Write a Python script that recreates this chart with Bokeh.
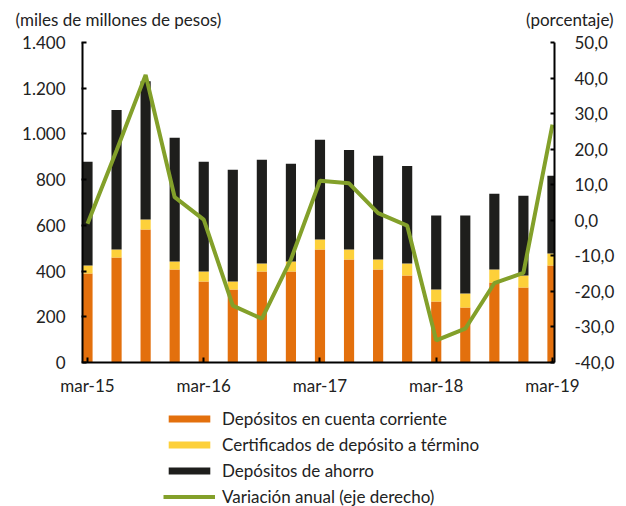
from bokeh.plotting import figure
from bokeh.layouts import column, row
from bokeh.models import (Range1d, LinearAxis, FixedTicker, CustomJSTickFormatter,
                          Legend, LegendItem, Label)
from bokeh.embed import file_html
from bokeh.resources import INLINE

# ---- data (quarterly, mar-15 .. mar-19) ----
periods = ["mar-15", "jun-15", "sep-15", "dic-15", "mar-16", "jun-16", "sep-16", "dic-16",
           "mar-17", "jun-17", "sep-17", "dic-17", "mar-18", "jun-18", "sep-18", "dic-18", "mar-19"]
cuenta_corriente = [389, 459, 582, 407, 354, 319, 398, 398, 494, 451, 407, 381, 267, 241, 350, 328, 424]
cdt = [35, 35, 44, 35, 44, 35, 35, 44, 44, 43, 44, 52, 52, 61, 57, 53, 53]
ahorro = [454, 611, 604, 541, 480, 489, 454, 427, 436, 436, 453, 427, 324, 341, 331, 348, 340]
variacion = [-1.0, 19.6, 40.9, 6.5, 0.2, -24.0, -27.7, -11.0, 11.1, 10.4, 2.0, -1.5,
             -33.8, -30.5, -17.7, -14.8, 26.9]
x_tick_labels = {0: "mar-15", 4: "mar-16", 8: "mar-17", 12: "mar-18", 16: "mar-19"}
left_ticks = [0, 200, 400, 600, 800, 1000, 1200, 1400]
right_ticks = [-40, -30, -20, -10, 0, 10, 20, 30, 40, 50]
left_unit = "(miles de millones de pesos)"
right_unit = "(porcentaje)"
legend_labels = ["Depósitos en cuenta corriente", "Certificados de depósito a término",
                 "Depósitos de ahorro", "Variación anual (eje derecho)"]

ORANGE = "#E3700D"
YELLOW = "#FDD03A"
BLACK = "#1E1E1C"
GREEN = "#83A02A"
TXT = "#222222"
FONT = "Lato"
FS = "17px"
W = 626

def bare(fig):
    fig.outline_line_color = None
    fig.background_fill_color = None
    fig.border_fill_color = "white"
    return fig

# ---------- header with the unit labels ----------
HDR_H = 30
hdr = bare(figure(width=W, height=HDR_H, x_range=Range1d(0, W), y_range=Range1d(0, HDR_H),
                  x_axis_type=None, y_axis_type=None, title=None,
                  output_backend="svg", toolbar_location=None, min_border=0))
hdr.xgrid.grid_line_color = None
hdr.ygrid.grid_line_color = None
hdr.add_layout(Label(x=15, y=HDR_H - 19, text=left_unit, text_font=FONT, text_font_size=FS,
                     text_color=TXT, text_baseline="middle", text_align="left"))
hdr.add_layout(Label(x=613, y=HDR_H - 19, text=right_unit, text_font=FONT, text_font_size=FS,
                     text_color=TXT, text_baseline="middle", text_align="right"))

# ---------- main chart ----------
xs = list(range(len(periods)))
data = dict(x=xs, cc=cuenta_corriente, cdt=cdt, ah=ahorro, var=variacion)

MAIN_H = 12 + 320 + 42
p = bare(figure(width=W, height=MAIN_H, title=None,
                x_range=Range1d(-0.172, 16.07), y_range=Range1d(0, 1400),
                output_backend="svg", toolbar_location=None,
                min_border_left=82, min_border_right=W - 82 - 472,
                min_border_top=12, min_border_bottom=42))
p.extra_y_ranges = {"pct": Range1d(-40, 50)}
p.xgrid.grid_line_color = None
p.ygrid.grid_line_color = None

rs = p.vbar_stack(["cc", "cdt", "ah"], x="x", width=0.35, source=data,
                  color=[ORANGE, YELLOW, BLACK], line_color=None)
ln = p.line("x", "var", source=data, y_range_name="pct", line_color=GREEN, line_width=4)

def style(ax):
    ax.axis_line_color = "black"
    ax.axis_line_width = 2
    ax.major_tick_line_color = "black"
    ax.major_tick_line_width = 2
    ax.minor_tick_line_color = None
    ax.major_label_text_font = FONT
    ax.major_label_text_font_size = FS
    ax.major_label_text_color = TXT

xa = p.xaxis[0]
style(xa)
xa.ticker = FixedTicker(ticks=list(x_tick_labels.keys()))
xa.major_label_overrides = x_tick_labels
xa.major_tick_in = 5
xa.major_tick_out = 0
xa.major_label_standoff = 12

ya = p.yaxis[0]
style(ya)
ya.ticker = FixedTicker(ticks=left_ticks)
ya.formatter = CustomJSTickFormatter(code="return tick.toString().replace(/\\B(?=(\\d{3})+(?!\\d))/g, '.');")
ya.major_tick_in = 4
ya.major_tick_out = 1
ya.major_label_standoff = 16

ra = LinearAxis(y_range_name="pct")
style(ra)
ra.ticker = FixedTicker(ticks=right_ticks)
ra.formatter = CustomJSTickFormatter(code="return tick.toFixed(1).replace('.', ',');")
ra.major_tick_in = 4
ra.major_tick_out = 0
ra.major_label_standoff = 20
p.add_layout(ra, "right")

# ---------- legend (own figure; its frame is aligned with the chart frame) ----------
# swatch renderers use the same data, but the y-range lies above all values so nothing is drawn
LEG_H = 506 - HDR_H - MAIN_H
lf = bare(figure(width=W, height=LEG_H, x_range=Range1d(-0.172, 16.07), y_range=Range1d(3000, 3100),
                 x_axis_type=None, y_axis_type=None, title=None,
                 output_backend="svg", toolbar_location=None, min_border=0))
lf.xgrid.grid_line_color = None
lf.ygrid.grid_line_color = None
sw = lf.vbar_stack(["cc", "cdt", "ah"], x="x", width=0.35, source=data,
                   color=[ORANGE, YELLOW, BLACK], line_color=None)
sw.append(lf.line("x", "var", source=data, line_color=GREEN, line_width=4))
legend = Legend(items=[LegendItem(label=t, renderers=[r]) for t, r in zip(legend_labels, sw)],
                orientation="vertical", location=(81, -1))
legend.glyph_width = 52
legend.glyph_height = 9
legend.label_text_font = FONT
legend.label_text_font_size = FS
legend.label_text_color = TXT
legend.label_standoff = 7
legend.label_height = 20
legend.spacing = 5
legend.padding = 0
legend.margin = 0
legend.border_line_color = None
legend.background_fill_alpha = 0
lf.add_layout(legend, "center")

layout = column(row(hdr), p, lf, spacing=0)
open("out.html", "w").write(file_html(layout, INLINE))
